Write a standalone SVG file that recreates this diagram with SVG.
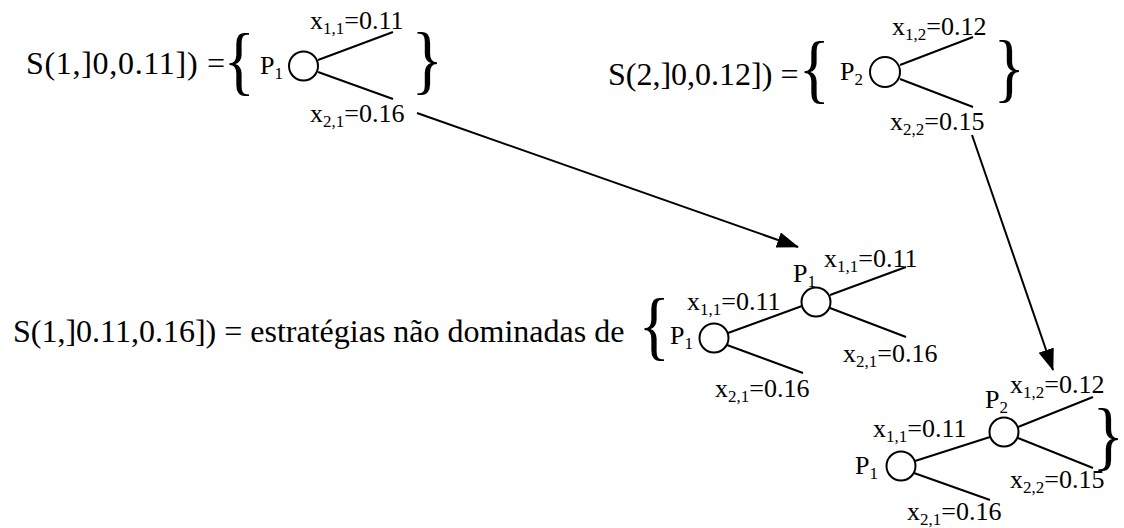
<svg xmlns="http://www.w3.org/2000/svg" width="1124" height="528" viewBox="0 0 1124 528" font-family="'Liberation Serif', 'Times New Roman', Times, serif">
<defs>
<style>
text{font-family:'Liberation Serif','Times New Roman',Times,serif;fill:#000}
.main{font-size:32px}
.lbl{font-size:26px}
.sub{font-size:17px}
.br{font-size:77px}
.edge{stroke:#000;stroke-width:2;fill:none}
.node{stroke:#000;stroke-width:2;fill:#fff}
.arrow{stroke:#000;stroke-width:2;fill:none;marker-end:url(#ah)}
</style>
<marker id="ah" markerUnits="userSpaceOnUse" markerWidth="24" markerHeight="18" refX="21" refY="8" orient="auto">
<path d="M0,0 L22,8 L0,16 Z" fill="#000"/>
</marker>
</defs>
<rect width="1124" height="528" fill="#fff"/>

<g id="tree-s1">
<text class="main" x="26" y="74" textLength="199" lengthAdjust="spacing">S(1,]0,0.11]) =</text>
<text class="br" transform="translate(223.5,86) scale(0.85,1)">{</text>
<text class="lbl" x="260" y="74">P<tspan class="sub" dy="5">1</tspan></text>
<circle class="node" cx="303.5" cy="66" r="14.5"/>
<line class="edge" x1="318" y1="60" x2="393" y2="32"/>
<line class="edge" x1="318" y1="72" x2="393" y2="99"/>
<text class="lbl" x="310" y="29">x<tspan class="sub" dy="5">1,1</tspan><tspan dy="-5">=0.11</tspan></text>
<text class="lbl" x="310" y="122">x<tspan class="sub" dy="5">2,1</tspan><tspan dy="-5">=0.16</tspan></text>
<text class="br" transform="translate(411.5,85) scale(0.85,1)">}</text>
</g>

<g id="tree-s2">
<text class="main" x="608" y="85">S(2,]0,0.12]) =</text>
<text class="br" transform="translate(798.5,94) scale(0.85,1)">{</text>
<text class="lbl" x="840" y="80">P<tspan class="sub" dy="5">2</tspan></text>
<circle class="node" cx="885" cy="72" r="15"/>
<line class="edge" x1="900" y1="65" x2="973" y2="37"/>
<line class="edge" x1="900" y1="79" x2="973" y2="107"/>
<text class="lbl" x="892" y="35">x<tspan class="sub" dy="5">1,2</tspan><tspan dy="-5">=0.12</tspan></text>
<text class="lbl" x="890" y="130">x<tspan class="sub" dy="5">2,2</tspan><tspan dy="-5">=0.15</tspan></text>
<text class="br" transform="translate(993.5,93) scale(0.85,1)">}</text>
</g>

<g id="tree-s1b">
<text class="main" x="13" y="342">S(1,]0.11,0.16]) = estratégias não dominadas de</text>
<text class="br" transform="translate(638.5,351) scale(0.85,1)">{</text>
<text class="lbl" x="670" y="344">P<tspan class="sub" dy="5">1</tspan></text>
<circle class="node" cx="714" cy="338" r="14.5"/>
<circle class="node" cx="816" cy="302" r="14.5"/>
<line class="edge" x1="728" y1="333" x2="802" y2="306"/>
<line class="edge" x1="727" y1="345" x2="803" y2="373"/>
<text class="lbl" x="687" y="310">x<tspan class="sub" dy="5">1,1</tspan><tspan dy="-5">=0.11</tspan></text>
<text class="lbl" x="793" y="282">P<tspan class="sub" dy="5">1</tspan></text>
<text class="lbl" x="824" y="267">x<tspan class="sub" dy="5">1,1</tspan><tspan dy="-5">=0.11</tspan></text>
<line class="edge" x1="830" y1="295" x2="906" y2="267"/>
<line class="edge" x1="830" y1="308" x2="906" y2="337"/>
<text class="lbl" x="843" y="362">x<tspan class="sub" dy="5">2,1</tspan><tspan dy="-5">=0.16</tspan></text>
<text class="lbl" x="715" y="397">x<tspan class="sub" dy="5">2,1</tspan><tspan dy="-5">=0.16</tspan></text>
</g>

<g id="tree-s2b">
<text class="lbl" x="855" y="474">P<tspan class="sub" dy="5">1</tspan></text>
<circle class="node" cx="901" cy="466" r="14.5"/>
<circle class="node" cx="1004" cy="432" r="14.5"/>
<line class="edge" x1="915" y1="461" x2="990" y2="437"/>
<line class="edge" x1="914" y1="473" x2="990" y2="500"/>
<text class="lbl" x="873" y="437">x<tspan class="sub" dy="5">1,1</tspan><tspan dy="-5">=0.11</tspan></text>
<text class="lbl" x="985" y="408">P<tspan class="sub" dy="5">2</tspan></text>
<text class="lbl" x="1010" y="393">x<tspan class="sub" dy="5">1,2</tspan><tspan dy="-5">=0.12</tspan></text>
<line class="edge" x1="1018" y1="427" x2="1093" y2="397"/>
<line class="edge" x1="1018" y1="438" x2="1093" y2="468"/>
<text class="lbl" x="1010" y="488">x<tspan class="sub" dy="5">2,2</tspan><tspan dy="-5">=0.15</tspan></text>
<text class="br" transform="translate(1092.5,461) scale(0.85,1)">}</text>
<text class="lbl" x="907" y="520">x<tspan class="sub" dy="5">2,1</tspan><tspan dy="-5">=0.16</tspan></text>
</g>

<g id="connectors">
<line class="arrow" x1="417" y1="113" x2="798" y2="247"/>
<line class="arrow" x1="972" y1="135" x2="1053" y2="370"/>
</g>
</svg>
